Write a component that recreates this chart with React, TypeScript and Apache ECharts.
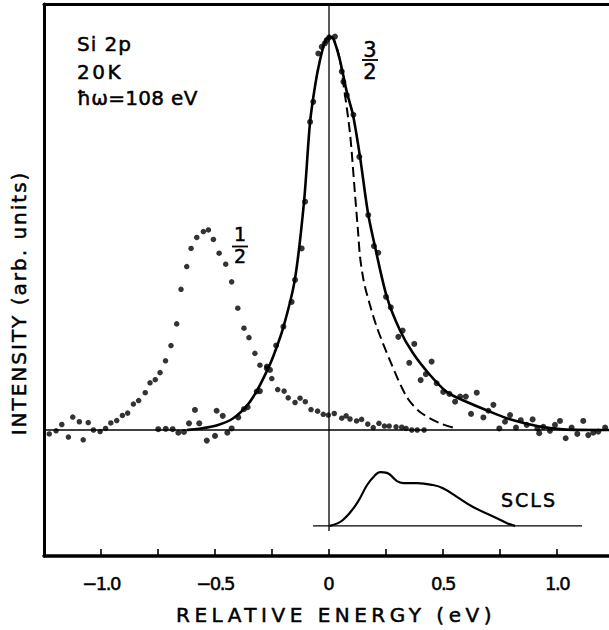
import React, { useEffect, useRef } from 'react';
import * as echarts from 'echarts';

// Axis extents (eV, arb. units)
const X_MIN = -1.25;
const X_MAX = 1.228;
const Y_MIN = -32.06;
const Y_MAX = 108.4;
const X_TICK_STEP = 0.25;
const X_LABELED = [-1.0, -0.5, 0, 0.5, 1.0];

// j = 1/2 component (dotted)
const halfPoints: [number, number][] = [
  [-1.227, -1.0], [-1.197, -0.2], [-1.172, 1.4], [-1.143, -1.8], [-1.124, 3.3], [-1.095, 2.1],
  [-1.078, -2.5], [-1.056, 1.9], [-1.033, 0.0], [-1.004, -0.4], [-0.98, 0.4], [-0.957, 1.8],
  [-0.931, 2.4], [-0.906, 3.7], [-0.883, 4.3], [-0.858, 6.6], [-0.835, 7.5], [-0.806, 9.5],
  [-0.785, 12.0], [-0.762, 12.8], [-0.741, 14.6], [-0.717, 17.6], [-0.693, 21.5], [-0.668, 27.0],
  [-0.649, 35.8], [-0.624, 41.6], [-0.605, 46.2], [-0.58, 49.0], [-0.551, 50.5], [-0.529, 50.9],
  [-0.507, 48.5], [-0.482, 45.0], [-0.453, 42.2], [-0.427, 37.7], [-0.4, 31.0], [-0.373, 25.9],
  [-0.351, 23.5], [-0.325, 19.5], [-0.303, 16.5], [-0.273, 16.2], [-0.251, 13.1], [-0.225, 10.3],
  [-0.197, 9.9], [-0.179, 8.2], [-0.149, 7.0], [-0.127, 8.1], [-0.104, 7.2], [-0.079, 5.2],
  [-0.05, 4.8], [-0.025, 4.0], [-0.003, 3.8], [0.023, 4.2], [0.056, 3.0], [0.075, 3.6],
  [0.092, 2.8], [0.121, 2.3], [0.143, 2.7], [0.17, 1.5], [0.194, 0.6], [0.219, 1.7],
  [0.243, 1.0], [0.264, 1.0], [0.294, 0.8], [0.319, 0.7], [0.338, 0.4], [0.363, 0.0],
  [0.387, 0.0], [0.417, 0.0],
];

// j = 3/2 component data points
const threeHalfPoints: [number, number][] = [
  [-0.749, 0.2], [-0.716, 0.3], [-0.686, 0.2], [-0.661, -0.7], [-0.636, -0.5], [-0.614, 1.7],
  [-0.588, 5.1], [-0.569, 1.7], [-0.536, -2.7], [-0.5, -1.5], [-0.493, 4.9], [-0.466, 3.6],
  [-0.446, -0.7], [-0.427, 0.4], [-0.398, 3.2], [-0.373, 5.3], [-0.357, 5.8], [-0.317, 9.8],
  [-0.303, 9.9], [-0.273, 15.7], [-0.259, 15.3], [-0.232, 21.5], [-0.2, 26.3], [-0.164, 32.6],
  [-0.149, 38.2], [-0.12, 46.2], [-0.105, 58.1], [-0.083, 78.4], [-0.069, 83.5], [-0.047, 95.8],
  [-0.032, 97.5], [-0.018, 98.4], [-0.01, 99.2], [0.001, 99.9], [0.026, 100.1], [0.056, 91.2],
  [0.063, 88.6], [0.078, 85.2], [0.107, 80.2], [0.133, 69.5], [0.172, 54.7], [0.197, 46.8],
  [0.216, 45.1], [0.25, 33.9], [0.271, 31.2], [0.304, 23.7], [0.323, 25.3], [0.352, 17.1],
  [0.374, 21.9], [0.402, 12.7], [0.425, 14.2], [0.45, 17.4], [0.472, 11.9], [0.501, 9.7],
  [0.528, 9.2], [0.553, 7.2], [0.575, 8.5], [0.6, 8.5], [0.623, 4.1], [0.648, 9.5],
  [0.677, 3.2], [0.699, 4.9], [0.721, 6.4], [0.747, 0.4], [0.772, 2.1], [0.794, 3.8],
  [0.82, 0.6], [0.841, 2.5], [0.867, 1.3], [0.893, 2.7], [0.914, 0.4], [0.922, -0.8],
  [0.94, 0.8], [0.969, -0.2], [0.991, 1.3], [1.013, 2.3], [1.038, -2.1], [1.064, 0.6],
  [1.089, -1.0], [1.115, 2.3], [1.137, -1.3], [1.159, -0.7], [1.181, -0.4], [1.211, 0.6],
];

// fitted 3/2 line (solid)
const fitCurve: [number, number][] = [
  [-0.623, 0], [-0.57, 0.3], [-0.49, 1.2], [-0.42, 3.0], [-0.36, 6.2], [-0.316, 10.0],
  [-0.27, 15.3], [-0.246, 18.5], [-0.2, 26.2], [-0.15, 38.2], [-0.11, 57.8], [-0.083, 78.4],
  [-0.06, 88.0], [-0.04, 94.0], [-0.018, 98.7], [0, 100], [0.018, 99.7], [0.048, 94.1],
  [0.079, 85.8], [0.105, 80.2], [0.136, 69.5], [0.171, 55.2], [0.202, 46.6], [0.254, 33.8],
  [0.311, 25.4], [0.368, 19.6], [0.443, 14.0], [0.516, 9.7], [0.575, 7.9], [0.692, 5.0],
  [0.779, 3.0], [0.867, 1.6], [0.955, 0.6], [1.042, 0.1], [1.228, 0],
];

// symmetric (instrumental) line shape (dashed)
const dashedCurve: [number, number][] = [
  [0, 100], [0.018, 99.7], [0.045, 95.0], [0.063, 88.2], [0.092, 75.5], [0.114, 60.0],
  [0.128, 50.0], [0.136, 44.1], [0.15, 38.6], [0.165, 34.8], [0.209, 26.3], [0.268, 17.6],
  [0.341, 8.4], [0.399, 4.6], [0.487, 1.7], [0.56, 0.4],
];

// surface core level shift distribution
const sclsCurve: [number, number][] = [
  [0.004, -24.4], [0.061, -22.9], [0.123, -18.6], [0.167, -14.0], [0.202, -11.5], [0.224, -10.7],
  [0.254, -10.9], [0.298, -13.0], [0.325, -13.5], [0.386, -13.5], [0.456, -14.0], [0.5, -14.8],
  [0.561, -17.0], [0.632, -19.6], [0.706, -21.6], [0.781, -23.7], [0.816, -24.4],
];
const sclsBaseline: [number, number][] = [[-0.07, -24.4], [1.11, -24.4]];
const zeroBaseline: [number, number][] = [[X_MIN, 0], [X_MAX, 0]];
const zeroVertical: [number, number][] = [[0, Y_MAX], [0, -25.7]];

const FONT = 'DejaVu Sans';
const INK = '#000';

const letterSpacing: Record<string, string> = {
  'RELATIVE ENERGY (eV)': '4.5',
  'INTENSITY (arb. units)': '2',
  'SCLS': '2',
  'Si 2p': '1',
  '20K': '2.5',
  'ħω=108 eV': '0.3',
  '\u22121.0': '-1.5',
  '\u22120.5': '-1.5',
  '0.5': '-1.5',
  '1.0': '-1.5',
};

function txt(text: string, x: number, y: number, size: number, align = 'center', rotation = 0) {
  return {
    type: 'text',
    x,
    y,
    rotation,
    silent: true,
    style: {
      text,
      fill: INK,
      stroke: INK,
      lineWidth: 0.5,
      fontSize: size,
      fontFamily: FONT,
      align,
      textAlign: align,
      verticalAlign: 'middle',
      textVerticalAlign: 'middle',
    },
  };
}

function hline(x1: number, x2: number, y: number) {
  return {
    type: 'line',
    silent: true,
    shape: { x1, y1: y, x2, y2: y },
    style: { stroke: INK, lineWidth: 1.8 },
  };
}

export default function App() {
  const ref = useRef<HTMLDivElement>(null);

  useEffect(() => {
    const el = ref.current;
    if (!el) return;
    const chart = echarts.init(el, undefined, { renderer: 'svg' });

    const lineBase = {
      type: 'line',
      symbol: 'none',
      showSymbol: false,
      silent: true,
      animation: false,
    };

    chart.setOption({
      animation: false,
      backgroundColor: '#fff',
      grid: { left: 44, right: 0, top: 4, bottom: 74 },
      xAxis: [
        {
          type: 'value',
          min: X_MIN,
          max: X_MAX,
          interval: X_TICK_STEP,
          position: 'bottom',
          axisLine: { show: true, onZero: false, lineStyle: { color: INK, width: 3.5 } },
          axisTick: { show: true, inside: true, length: 7, lineStyle: { color: INK, width: 1.6 } },
          splitLine: { show: false },
          axisLabel: {
            show: true,
            interval: 0,
            margin: 18,
            color: INK,
            fontSize: 18,
            fontFamily: FONT,
            textBorderColor: INK,
            textBorderWidth: 0.5,
            showMaxLabel: false,
            formatter: (v: number) => {
              const hit = X_LABELED.find((t) => Math.abs(t - v) < 1e-6);
              if (hit === undefined) return '';
              if (hit === 0) return '0';
              return (hit < 0 ? '\u2212' : '') + Math.abs(hit).toFixed(1);
            },
          },
        },
        {
          type: 'value',
          min: X_MIN,
          max: X_MAX,
          position: 'top',
          axisLine: { show: true, onZero: false, lineStyle: { color: INK, width: 3 } },
          axisTick: { show: false },
          axisLabel: { show: false },
          splitLine: { show: false },
        },
      ],
      yAxis: {
        type: 'value',
        min: Y_MIN,
        max: Y_MAX,
        axisLine: { show: true, onZero: false, lineStyle: { color: INK, width: 3 } },
        axisTick: { show: false },
        axisLabel: { show: false },
        splitLine: { show: false },
      },
      series: [
        { ...lineBase, name: 'baseline', data: zeroBaseline, lineStyle: { color: INK, width: 1.3 } },
        { ...lineBase, name: 'zero', data: zeroVertical, lineStyle: { color: INK, width: 1.3 } },
        { ...lineBase, name: 'SCLS baseline', data: sclsBaseline, lineStyle: { color: INK, width: 1.3 } },
        { ...lineBase, name: 'SCLS', data: sclsCurve, smooth: 0.4, lineStyle: { color: INK, width: 2.2 } },
        {
          ...lineBase,
          name: 'symmetric',
          data: dashedCurve,
          smooth: 0.3,
          lineStyle: { color: INK, width: 2, type: [10, 5] },
        },
        { ...lineBase, name: 'fit 3/2', data: fitCurve, smooth: 0.3, lineStyle: { color: INK, width: 2.6 } },
        {
          type: 'scatter',
          name: '1/2',
          data: halfPoints,
          symbol: 'circle',
          symbolSize: 5.5,
          itemStyle: { color: INK },
          silent: true,
        },
        {
          type: 'scatter',
          name: '3/2',
          data: threeHalfPoints,
          symbol: 'circle',
          symbolSize: 6,
          itemStyle: { color: INK },
          silent: true,
        },
      ],
      graphic: [
        txt('Si 2p', 77, 44, 20, 'left'),
        txt('20K', 77, 71.5, 20, 'left'),
        txt('ħω=108 eV', 77, 97.5, 20, 'left'),
        txt('3', 370, 50, 21),
        hline(362, 378, 60),
        txt('2', 370, 72, 21),
        txt('1', 240, 234, 19),
        hline(232, 248, 246.5),
        txt('2', 240, 256, 19),
        txt('SCLS', 529, 500, 19),
        txt('RELATIVE ENERGY (eV)', 336, 615, 20),
        txt('INTENSITY (arb. units)', 18.5, 303, 20, 'center', Math.PI / 2),
      ],
    });

    const applySpacing = () => {
      el.querySelectorAll('text').forEach((t) => {
        const s = letterSpacing[(t.textContent || '').trim()];
        if (s !== undefined) t.setAttribute('letter-spacing', s);
      });
    };
    applySpacing();
    chart.on('finished', applySpacing);
    const timer = window.setTimeout(applySpacing, 30);

    return () => {
      window.clearTimeout(timer);
      chart.dispose();
    };
  }, []);

  return (
    <div
      ref={ref}
      style={{ position: 'absolute', left: 0, top: 0, width: 609, height: 630, background: '#fff' }}
    />
  );
}
